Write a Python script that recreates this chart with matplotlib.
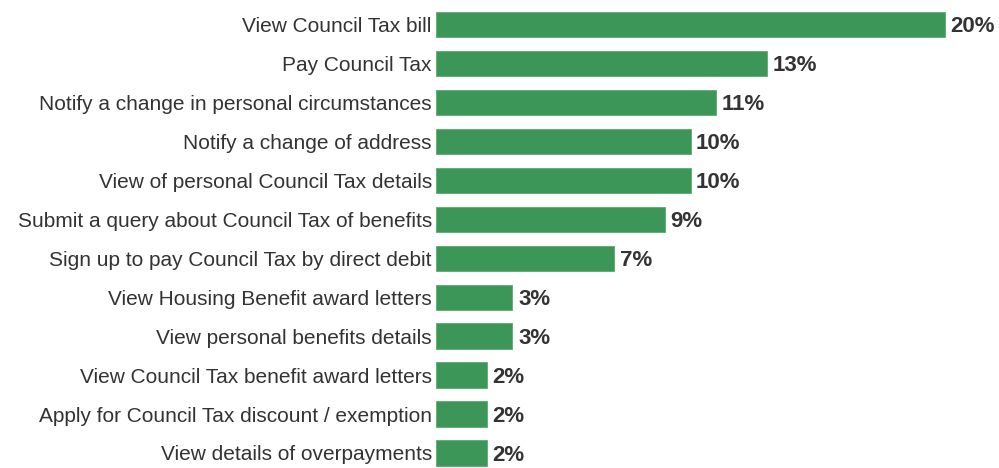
import matplotlib.pyplot as plt

plt.rcParams['font.family'] = ['Liberation Sans', 'DejaVu Sans']

# Online service usage, share of respondents
services = [
    "View Council Tax bill",
    "Pay Council Tax",
    "Notify a change in personal circumstances",
    "Notify a change of address",
    "View of personal Council Tax details",
    "Submit a query about Council Tax of benefits",
    "Sign up to pay Council Tax by direct debit",
    "View Housing Benefit award letters",
    "View personal benefits details",
    "View Council Tax benefit award letters",
    "Apply for Council Tax discount / exemption",
    "View details of overpayments",
]
shares = [20, 13, 11, 10, 10, 9, 7, 3, 3, 2, 2, 2]

fig = plt.figure(figsize=(9.99, 4.68), dpi=100)
ax = fig.add_axes([436 / 999, 0, 563 / 999, 1])

ypos = list(range(len(services)))
ax.barh(ypos, shares, height=0.65, color='#3b9657', edgecolor='#5aaa72', linewidth=0.6)

for y, v in zip(ypos, shares):
    ax.text(v + 0.22, y + 0.06, f"{v}%", va='center', ha='left',
            fontsize=16, fontweight='bold', color='#333333')

ax.set_xlim(0, 563 / 25.45)
ax.set_ylim(11 + 15 / 38.95, -24.5 / 38.95)
ax.set_yticks(ypos)
ax.set_yticklabels(services, fontsize=15, color='#333333')
ax.tick_params(axis='y', length=0, pad=3)
ax.set_xticks([])
for s in ax.spines.values():
    s.set_visible(False)

fig.savefig('out.png', dpi=100)
